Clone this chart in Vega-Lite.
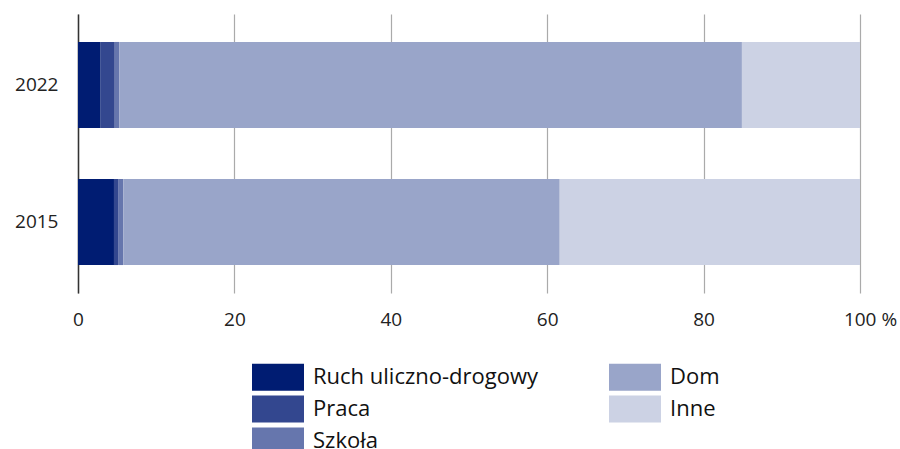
{
  "$schema": "https://vega.github.io/schema/vega-lite/v6.json",
  "width": 782,
  "height": 279,
  "autosize": "none",
  "padding": {"left": 78, "top": 14, "right": 40, "bottom": 156},
  "background": "white",
  "config": {
    "view": {"stroke": null},
    "font": "Open Sans"
  },
  "data": {
    "values": [
      {"rok": "2022", "kategoria": "Ruch uliczno-drogowy", "ord": 1, "wartosc": 2.9},
      {"rok": "2022", "kategoria": "Praca", "ord": 2, "wartosc": 1.8},
      {"rok": "2022", "kategoria": "Szkoła", "ord": 3, "wartosc": 0.6},
      {"rok": "2022", "kategoria": "Dom", "ord": 4, "wartosc": 79.6},
      {"rok": "2022", "kategoria": "Inne", "ord": 5, "wartosc": 15.1},
      {"rok": "2015", "kategoria": "Ruch uliczno-drogowy", "ord": 1, "wartosc": 4.6},
      {"rok": "2015", "kategoria": "Praca", "ord": 2, "wartosc": 0.6},
      {"rok": "2015", "kategoria": "Szkoła", "ord": 3, "wartosc": 0.6},
      {"rok": "2015", "kategoria": "Dom", "ord": 4, "wartosc": 55.8},
      {"rok": "2015", "kategoria": "Inne", "ord": 5, "wartosc": 38.4}
    ]
  },
  "mark": {"type": "bar"},
  "encoding": {
    "y": {
      "field": "rok",
      "type": "nominal",
      "sort": ["2022", "2015"],
      "scale": {"paddingInner": 0.372, "paddingOuter": 0.204},
      "axis": {
        "title": null,
        "ticks": false,
        "domainColor": "#333333",
        "domainWidth": 1.5,
        "labelFontSize": 19,
        "labelColor": "#222222",
        "labelPadding": 20,
        "labelFont": "Open Sans"
      }
    },
    "x": {
      "field": "wartosc",
      "type": "quantitative",
      "stack": "zero",
      "scale": {"domain": [0, 100], "nice": false},
      "axis": {
        "title": null,
        "values": [0, 20, 40, 60, 80, 100],
        "labelExpr": "datum.value == 100 ? '100 %' : datum.label",
        "labelOffset": {"condition": {"test": "datum.value == 100", "value": 10}, "value": 0},
        "domain": false,
        "ticks": false,
        "grid": true,
        "gridColor": "#aaaaaa",
        "gridWidth": 1.2,
        "labelFontSize": 19,
        "labelColor": "#222222",
        "labelPadding": 17,
        "labelFont": "Open Sans",
        "labelFlush": false
      }
    },
    "color": {
      "field": "kategoria",
      "type": "nominal",
      "scale": {
        "domain": ["Ruch uliczno-drogowy", "Praca", "Szkoła", "Dom", "Inne"],
        "range": ["#001c72", "#33478f", "#6676ad", "#99a5c9", "#ccd2e4"]
      },
      "legend": {
        "title": null,
        "orient": "none",
        "legendX": 187,
        "legendY": 350,
        "columns": 2,
        "symbolType": "M-2,-1.04H2V1.04H-2Z",
        "symbolSize": 676,
        "symbolStrokeWidth": 0,
        "symbolOpacity": 1,
        "labelFontSize": 22,
        "labelColor": "#111111",
        "labelFont": "Open Sans",
        "labelOffset": 22,
        "rowPadding": 4,
        "columnPadding": 70,
        "labelLimit": 400
      }
    },
    "order": {"field": "ord", "type": "quantitative"}
  }
}
